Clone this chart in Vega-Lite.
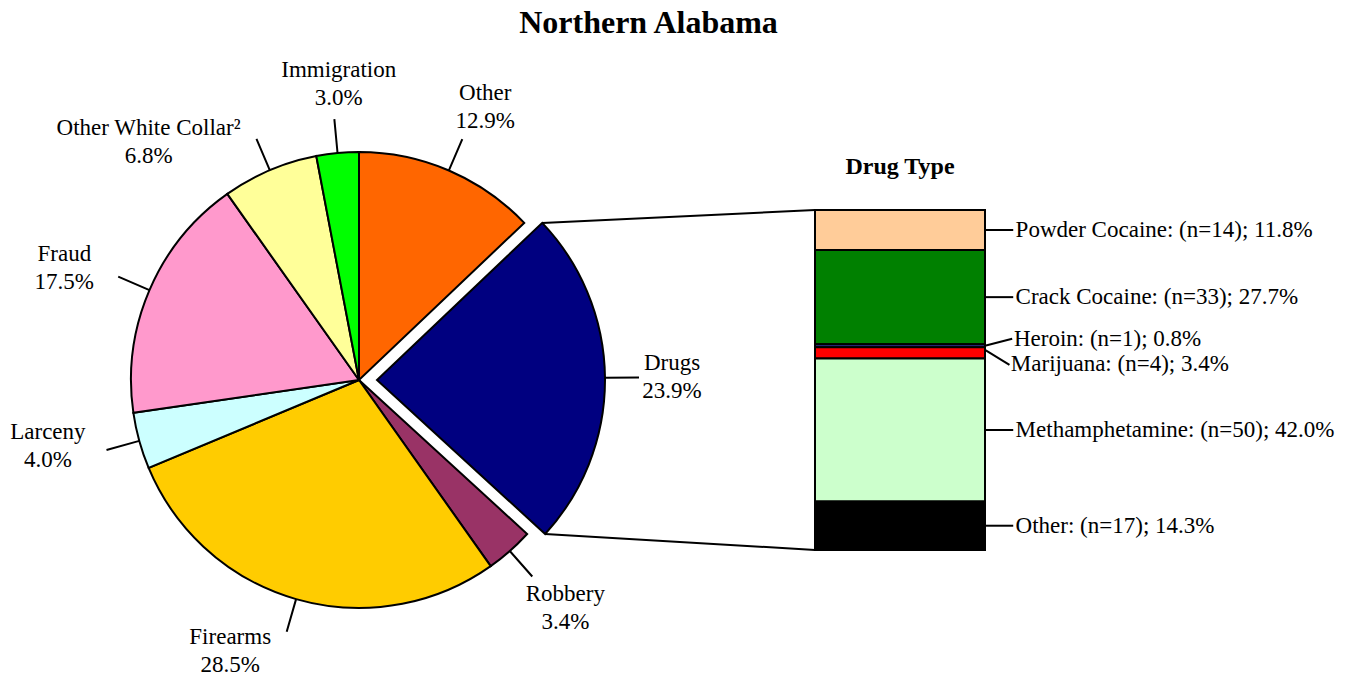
{
  "$schema": "https://vega.github.io/schema/vega-lite/v6.json",
  "width": 1361,
  "height": 629,
  "autosize": {"type": "none"},
  "padding": {"top": 50, "left": 0, "right": 0, "bottom": 0},
  "background": "white",
  "title": {"text": "Northern Alabama", "font": "Liberation Serif", "fontSize": 32, "fontWeight": "bold", "color": "black", "anchor": "middle", "dx": -32, "offset": 10},
  "datasets": {
    "offenses": [
      {"offense": "Other", "share": 0.129},
      {"offense": "Drugs", "share": 0.239},
      {"offense": "Robbery", "share": 0.034},
      {"offense": "Firearms", "share": 0.285},
      {"offense": "Larceny", "share": 0.04},
      {"offense": "Fraud", "share": 0.175},
      {"offense": "Other White Collar²", "share": 0.068},
      {"offense": "Immigration", "share": 0.03}
    ],
    "drugs": [
      {"drug": "Powder Cocaine", "n": 14, "label": "Powder Cocaine: (n=14); 11.8%"},
      {"drug": "Crack Cocaine", "n": 33, "label": "Crack Cocaine: (n=33); 27.7%"},
      {"drug": "Heroin", "n": 1, "label": "Heroin: (n=1); 0.8%"},
      {"drug": "Marijuana", "n": 4, "label": "Marijuana: (n=4); 3.4%"},
      {"drug": "Methamphetamine", "n": 50, "label": "Methamphetamine: (n=50); 42.0%"},
      {"drug": "Other", "n": 17, "label": "Other: (n=17); 14.3%"}
    ]
  },
  "layer": [
    {
      "data": {"name": "offenses"},
      "transform": [
        {"stack": "share", "groupby": [], "as": ["a0", "a1"]},
        {"fold": ["a0", "a1"], "as": ["edge", "ang"]},
        {"aggregate": [{"op": "mean", "field": "ang", "as": "amid"}], "groupby": ["offense", "share", "a0", "a1"]}
      ],
      "layer": [
        {
          "transform": [{"filter": "datum.offense !== 'Drugs'"}],
          "mark": {"type": "arc", "outerRadius": 228, "stroke": "black", "strokeWidth": 2},
          "encoding": {
            "x": {"datum": -1.34118, "type": "quantitative", "stack": null, "scale": {"domain": [-2.39706, 1.60588], "nice": false, "zero": false}, "axis": null},
            "y": {"datum": 0.5, "type": "quantitative", "scale": {"domain": [-0.47059, 1.37941], "reverse": true, "nice": false, "zero": false}, "axis": null},
            "theta": {"field": "a0", "type": "quantitative", "scale": {"domain": [0, 1], "range": [0, 6.283185307179586]}},
            "theta2": {"field": "a1"},
            "color": {"field": "offense", "type": "nominal", "legend": null, "scale": {"domain": ["Other", "Drugs", "Robbery", "Firearms", "Larceny", "Fraud", "Other White Collar²", "Immigration"], "range": ["#FF6600", "#000080", "#993366", "#FFCC00", "#CCFFFF", "#FF99CC", "#FFFF99", "#00FF00"]}}
          }
        },
        {
          "transform": [{"filter": "datum.offense === 'Drugs'"}],
          "mark": {"type": "arc", "outerRadius": 228, "stroke": "black", "strokeWidth": 2},
          "encoding": {
            "x": {"datum": -1.28824, "type": "quantitative", "stack": null, "scale": {"domain": [-2.39706, 1.60588], "nice": false, "zero": false}, "axis": null},
            "y": {"datum": 0.5, "type": "quantitative", "scale": {"domain": [-0.47059, 1.37941], "reverse": true, "nice": false, "zero": false}, "axis": null},
            "theta": {"field": "a0", "type": "quantitative", "scale": {"domain": [0, 1], "range": [0, 6.283185307179586]}},
            "theta2": {"field": "a1"},
            "color": {"field": "offense", "type": "nominal", "legend": null, "scale": {"domain": ["Other", "Drugs", "Robbery", "Firearms", "Larceny", "Fraud", "Other White Collar²", "Immigration"], "range": ["#FF6600", "#000080", "#993366", "#FFCC00", "#CCFFFF", "#FF99CC", "#FFFF99", "#00FF00"]}}
          }
        },
        {
          "transform": [{"filter": "datum.offense !== 'Drugs'"}],
          "mark": {"type": "arc", "innerRadius": 228, "outerRadius": 262, "padAngle": 3, "fill": "transparent", "stroke": "black", "strokeWidth": 2},
          "encoding": {
            "x": {"datum": -1.34118, "type": "quantitative", "stack": null, "scale": {"domain": [-2.39706, 1.60588], "nice": false, "zero": false}, "axis": null},
            "y": {"datum": 0.5, "type": "quantitative", "scale": {"domain": [-0.47059, 1.37941], "reverse": true, "nice": false, "zero": false}, "axis": null},
            "theta": {"field": "a0", "type": "quantitative", "scale": {"domain": [0, 1], "range": [0, 6.283185307179586]}},
            "theta2": {"field": "a1"}
          }
        },
        {
          "transform": [{"filter": "datum.offense === 'Drugs'"}],
          "mark": {"type": "arc", "innerRadius": 228, "outerRadius": 262, "padAngle": 3, "fill": "transparent", "stroke": "black", "strokeWidth": 2},
          "encoding": {
            "x": {"datum": -1.28824, "type": "quantitative", "stack": null, "scale": {"domain": [-2.39706, 1.60588], "nice": false, "zero": false}, "axis": null},
            "y": {"datum": 0.5, "type": "quantitative", "scale": {"domain": [-0.47059, 1.37941], "reverse": true, "nice": false, "zero": false}, "axis": null},
            "theta": {"field": "a0", "type": "quantitative", "scale": {"domain": [0, 1], "range": [0, 6.283185307179586]}},
            "theta2": {"field": "a1"}
          }
        },
        {
          "transform": [{"filter": "indexof(['Other', 'Immigration', 'Robbery'], datum.offense) >= 0"}],
          "mark": {"type": "text", "radius": 300, "dx": 8, "dy": -11, "align": "center", "baseline": "middle", "font": "Liberation Serif", "fontSize": 23, "color": "black"},
          "encoding": {
            "x": {"datum": -1.34118, "type": "quantitative", "stack": null, "scale": {"domain": [-2.39706, 1.60588], "nice": false, "zero": false}, "axis": null},
            "y": {"datum": 0.5, "type": "quantitative", "scale": {"domain": [-0.47059, 1.37941], "reverse": true, "nice": false, "zero": false}, "axis": null},
            "theta": {"field": "amid", "type": "quantitative", "scale": {"domain": [0, 1], "range": [0, 6.283185307179586]}},
            "text": {"field": "offense", "type": "nominal"}
          }
        },
        {
          "transform": [{"filter": "indexof(['Other', 'Immigration', 'Robbery'], datum.offense) >= 0"}],
          "mark": {"type": "text", "radius": 300, "dx": 8, "dy": 17, "align": "center", "baseline": "middle", "font": "Liberation Serif", "fontSize": 23, "color": "black"},
          "encoding": {
            "x": {"datum": -1.34118, "type": "quantitative", "stack": null, "scale": {"domain": [-2.39706, 1.60588], "nice": false, "zero": false}, "axis": null},
            "y": {"datum": 0.5, "type": "quantitative", "scale": {"domain": [-0.47059, 1.37941], "reverse": true, "nice": false, "zero": false}, "axis": null},
            "theta": {"field": "amid", "type": "quantitative", "scale": {"domain": [0, 1], "range": [0, 6.283185307179586]}},
            "text": {"field": "share", "type": "quantitative", "format": ".1%"}
          }
        },
        {
          "transform": [{"filter": "datum.offense === 'Fraud'"}],
          "mark": {"type": "text", "radius": 300, "dx": -19, "dy": -8, "align": "center", "baseline": "middle", "font": "Liberation Serif", "fontSize": 23, "color": "black"},
          "encoding": {
            "x": {"datum": -1.34118, "type": "quantitative", "stack": null, "scale": {"domain": [-2.39706, 1.60588], "nice": false, "zero": false}, "axis": null},
            "y": {"datum": 0.5, "type": "quantitative", "scale": {"domain": [-0.47059, 1.37941], "reverse": true, "nice": false, "zero": false}, "axis": null},
            "theta": {"field": "amid", "type": "quantitative", "scale": {"domain": [0, 1], "range": [0, 6.283185307179586]}},
            "text": {"field": "offense", "type": "nominal"}
          }
        },
        {
          "transform": [{"filter": "datum.offense === 'Fraud'"}],
          "mark": {"type": "text", "radius": 300, "dx": -19, "dy": 20, "align": "center", "baseline": "middle", "font": "Liberation Serif", "fontSize": 23, "color": "black"},
          "encoding": {
            "x": {"datum": -1.34118, "type": "quantitative", "stack": null, "scale": {"domain": [-2.39706, 1.60588], "nice": false, "zero": false}, "axis": null},
            "y": {"datum": 0.5, "type": "quantitative", "scale": {"domain": [-0.47059, 1.37941], "reverse": true, "nice": false, "zero": false}, "axis": null},
            "theta": {"field": "amid", "type": "quantitative", "scale": {"domain": [0, 1], "range": [0, 6.283185307179586]}},
            "text": {"field": "share", "type": "quantitative", "format": ".1%"}
          }
        },
        {
          "transform": [{"filter": "datum.offense === 'Larceny'"}],
          "mark": {"type": "text", "radius": 300, "dx": -22, "dy": -28, "align": "center", "baseline": "middle", "font": "Liberation Serif", "fontSize": 23, "color": "black"},
          "encoding": {
            "x": {"datum": -1.34118, "type": "quantitative", "stack": null, "scale": {"domain": [-2.39706, 1.60588], "nice": false, "zero": false}, "axis": null},
            "y": {"datum": 0.5, "type": "quantitative", "scale": {"domain": [-0.47059, 1.37941], "reverse": true, "nice": false, "zero": false}, "axis": null},
            "theta": {"field": "amid", "type": "quantitative", "scale": {"domain": [0, 1], "range": [0, 6.283185307179586]}},
            "text": {"field": "offense", "type": "nominal"}
          }
        },
        {
          "transform": [{"filter": "datum.offense === 'Larceny'"}],
          "mark": {"type": "text", "radius": 300, "dx": -22, "dy": 0, "align": "center", "baseline": "middle", "font": "Liberation Serif", "fontSize": 23, "color": "black"},
          "encoding": {
            "x": {"datum": -1.34118, "type": "quantitative", "stack": null, "scale": {"domain": [-2.39706, 1.60588], "nice": false, "zero": false}, "axis": null},
            "y": {"datum": 0.5, "type": "quantitative", "scale": {"domain": [-0.47059, 1.37941], "reverse": true, "nice": false, "zero": false}, "axis": null},
            "theta": {"field": "amid", "type": "quantitative", "scale": {"domain": [0, 1], "range": [0, 6.283185307179586]}},
            "text": {"field": "share", "type": "quantitative", "format": ".1%"}
          }
        },
        {
          "transform": [{"filter": "datum.offense === 'Other White Collar²'"}],
          "mark": {"type": "text", "radius": 300, "dx": -93, "dy": 24, "align": "center", "baseline": "middle", "font": "Liberation Serif", "fontSize": 23, "color": "black"},
          "encoding": {
            "x": {"datum": -1.34118, "type": "quantitative", "stack": null, "scale": {"domain": [-2.39706, 1.60588], "nice": false, "zero": false}, "axis": null},
            "y": {"datum": 0.5, "type": "quantitative", "scale": {"domain": [-0.47059, 1.37941], "reverse": true, "nice": false, "zero": false}, "axis": null},
            "theta": {"field": "amid", "type": "quantitative", "scale": {"domain": [0, 1], "range": [0, 6.283185307179586]}},
            "text": {"field": "offense", "type": "nominal"}
          }
        },
        {
          "transform": [{"filter": "datum.offense === 'Other White Collar²'"}],
          "mark": {"type": "text", "radius": 300, "dx": -93, "dy": 52, "align": "center", "baseline": "middle", "font": "Liberation Serif", "fontSize": 23, "color": "black"},
          "encoding": {
            "x": {"datum": -1.34118, "type": "quantitative", "stack": null, "scale": {"domain": [-2.39706, 1.60588], "nice": false, "zero": false}, "axis": null},
            "y": {"datum": 0.5, "type": "quantitative", "scale": {"domain": [-0.47059, 1.37941], "reverse": true, "nice": false, "zero": false}, "axis": null},
            "theta": {"field": "amid", "type": "quantitative", "scale": {"domain": [0, 1], "range": [0, 6.283185307179586]}},
            "text": {"field": "share", "type": "quantitative", "format": ".1%"}
          }
        },
        {
          "transform": [{"filter": "datum.offense === 'Firearms'"}],
          "mark": {"type": "text", "radius": 300, "dx": -46, "dy": -31, "align": "center", "baseline": "middle", "font": "Liberation Serif", "fontSize": 23, "color": "black"},
          "encoding": {
            "x": {"datum": -1.34118, "type": "quantitative", "stack": null, "scale": {"domain": [-2.39706, 1.60588], "nice": false, "zero": false}, "axis": null},
            "y": {"datum": 0.5, "type": "quantitative", "scale": {"domain": [-0.47059, 1.37941], "reverse": true, "nice": false, "zero": false}, "axis": null},
            "theta": {"field": "amid", "type": "quantitative", "scale": {"domain": [0, 1], "range": [0, 6.283185307179586]}},
            "text": {"field": "offense", "type": "nominal"}
          }
        },
        {
          "transform": [{"filter": "datum.offense === 'Firearms'"}],
          "mark": {"type": "text", "radius": 300, "dx": -46, "dy": -3, "align": "center", "baseline": "middle", "font": "Liberation Serif", "fontSize": 23, "color": "black"},
          "encoding": {
            "x": {"datum": -1.34118, "type": "quantitative", "stack": null, "scale": {"domain": [-2.39706, 1.60588], "nice": false, "zero": false}, "axis": null},
            "y": {"datum": 0.5, "type": "quantitative", "scale": {"domain": [-0.47059, 1.37941], "reverse": true, "nice": false, "zero": false}, "axis": null},
            "theta": {"field": "amid", "type": "quantitative", "scale": {"domain": [0, 1], "range": [0, 6.283185307179586]}},
            "text": {"field": "share", "type": "quantitative", "format": ".1%"}
          }
        },
        {
          "transform": [{"filter": "datum.offense === 'Drugs'"}],
          "mark": {"type": "text", "radius": 300, "dx": -5, "dy": -14, "align": "center", "baseline": "middle", "font": "Liberation Serif", "fontSize": 23, "color": "black"},
          "encoding": {
            "x": {"datum": -1.28824, "type": "quantitative", "stack": null, "scale": {"domain": [-2.39706, 1.60588], "nice": false, "zero": false}, "axis": null},
            "y": {"datum": 0.5, "type": "quantitative", "scale": {"domain": [-0.47059, 1.37941], "reverse": true, "nice": false, "zero": false}, "axis": null},
            "theta": {"field": "amid", "type": "quantitative", "scale": {"domain": [0, 1], "range": [0, 6.283185307179586]}},
            "text": {"field": "offense", "type": "nominal"}
          }
        },
        {
          "transform": [{"filter": "datum.offense === 'Drugs'"}],
          "mark": {"type": "text", "radius": 300, "dx": -5, "dy": 14, "align": "center", "baseline": "middle", "font": "Liberation Serif", "fontSize": 23, "color": "black"},
          "encoding": {
            "x": {"datum": -1.28824, "type": "quantitative", "stack": null, "scale": {"domain": [-2.39706, 1.60588], "nice": false, "zero": false}, "axis": null},
            "y": {"datum": 0.5, "type": "quantitative", "scale": {"domain": [-0.47059, 1.37941], "reverse": true, "nice": false, "zero": false}, "axis": null},
            "theta": {"field": "amid", "type": "quantitative", "scale": {"domain": [0, 1], "range": [0, 6.283185307179586]}},
            "text": {"field": "share", "type": "quantitative", "format": ".1%"}
          }
        }
      ]
    },
    {
      "data": {"name": "drugs"},
      "transform": [
        {"stack": "n", "groupby": [], "offset": "normalize", "as": ["s0", "s1"]},
        {"fold": ["s0", "s1"], "as": ["edge", "pos"]},
        {"aggregate": [{"op": "mean", "field": "pos", "as": "mid"}], "groupby": ["drug", "label", "s0", "s1"]}
      ],
      "layer": [
        {
          "mark": {"type": "bar", "stroke": "black", "strokeWidth": 2},
          "encoding": {
            "x": {"datum": 0, "type": "quantitative", "stack": null, "scale": {"domain": [-2.39706, 1.60588], "nice": false, "zero": false}, "axis": null},
            "x2": {"datum": 0.5},
            "y": {"field": "s0", "type": "quantitative", "scale": {"domain": [-0.47059, 1.37941], "reverse": true, "nice": false, "zero": false}, "axis": null},
            "y2": {"field": "s1"},
            "color": {"field": "drug", "type": "nominal", "legend": null, "scale": {"domain": ["Powder Cocaine", "Crack Cocaine", "Heroin", "Marijuana", "Methamphetamine", "Other"], "range": ["#FFCC99", "#008000", "#333399", "#FF0000", "#CCFFCC", "#000000"]}}
          }
        },
        {
          "transform": [{"filter": "datum.drug !== 'Heroin' && datum.drug !== 'Marijuana'"}],
          "mark": {"type": "rule", "stroke": "black", "strokeWidth": 2},
          "encoding": {
            "x": {"datum": 0.5, "type": "quantitative", "stack": null, "scale": {"domain": [-2.39706, 1.60588], "nice": false, "zero": false}, "axis": null},
            "x2": {"datum": 0.583},
            "y": {"field": "mid", "type": "quantitative", "scale": {"domain": [-0.47059, 1.37941], "reverse": true, "nice": false, "zero": false}, "axis": null},
            "y2": {"field": "mid"}
          }
        },
        {
          "transform": [{"filter": "datum.drug === 'Heroin'"}],
          "mark": {"type": "rule", "stroke": "black", "strokeWidth": 2, "y2Offset": -7},
          "encoding": {
            "x": {"datum": 0.5, "type": "quantitative", "stack": null, "scale": {"domain": [-2.39706, 1.60588], "nice": false, "zero": false}, "axis": null},
            "x2": {"datum": 0.58},
            "y": {"field": "mid", "type": "quantitative", "scale": {"domain": [-0.47059, 1.37941], "reverse": true, "nice": false, "zero": false}, "axis": null},
            "y2": {"field": "mid"}
          }
        },
        {
          "transform": [{"filter": "datum.drug === 'Marijuana'"}],
          "mark": {"type": "rule", "stroke": "black", "strokeWidth": 2, "yOffset": -3, "y2Offset": 12},
          "encoding": {
            "x": {"datum": 0.5, "type": "quantitative", "stack": null, "scale": {"domain": [-2.39706, 1.60588], "nice": false, "zero": false}, "axis": null},
            "x2": {"datum": 0.572},
            "y": {"field": "mid", "type": "quantitative", "scale": {"domain": [-0.47059, 1.37941], "reverse": true, "nice": false, "zero": false}, "axis": null},
            "y2": {"field": "mid"}
          }
        },
        {
          "transform": [{"filter": "datum.drug !== 'Heroin' && datum.drug !== 'Marijuana'"}],
          "mark": {"type": "text", "align": "left", "baseline": "middle", "font": "Liberation Serif", "fontSize": 23, "color": "black"},
          "encoding": {
            "x": {"datum": 0.59, "type": "quantitative", "stack": null, "scale": {"domain": [-2.39706, 1.60588], "nice": false, "zero": false}, "axis": null},
            "y": {"field": "mid", "type": "quantitative", "scale": {"domain": [-0.47059, 1.37941], "reverse": true, "nice": false, "zero": false}, "axis": null},
            "text": {"field": "label", "type": "nominal"}
          }
        },
        {
          "transform": [{"filter": "datum.drug === 'Heroin'"}],
          "mark": {"type": "text", "align": "left", "baseline": "middle", "dy": -7, "font": "Liberation Serif", "fontSize": 23, "color": "black"},
          "encoding": {
            "x": {"datum": 0.585, "type": "quantitative", "stack": null, "scale": {"domain": [-2.39706, 1.60588], "nice": false, "zero": false}, "axis": null},
            "y": {"field": "mid", "type": "quantitative", "scale": {"domain": [-0.47059, 1.37941], "reverse": true, "nice": false, "zero": false}, "axis": null},
            "text": {"field": "label", "type": "nominal"}
          }
        },
        {
          "transform": [{"filter": "datum.drug === 'Marijuana'"}],
          "mark": {"type": "text", "align": "left", "baseline": "middle", "dy": 11, "font": "Liberation Serif", "fontSize": 23, "color": "black"},
          "encoding": {
            "x": {"datum": 0.576, "type": "quantitative", "stack": null, "scale": {"domain": [-2.39706, 1.60588], "nice": false, "zero": false}, "axis": null},
            "y": {"field": "mid", "type": "quantitative", "scale": {"domain": [-0.47059, 1.37941], "reverse": true, "nice": false, "zero": false}, "axis": null},
            "text": {"field": "label", "type": "nominal"}
          }
        }
      ]
    },
    {
      "data": {"values": [{}]},
      "layer": [
        {
          "mark": {"type": "text", "text": "Drug Type", "align": "center", "baseline": "middle", "dy": -43, "font": "Liberation Serif", "fontSize": 24, "fontWeight": "bold", "color": "black"},
          "encoding": {
            "x": {"datum": 0.25, "type": "quantitative", "stack": null, "scale": {"domain": [-2.39706, 1.60588], "nice": false, "zero": false}, "axis": null},
            "y": {"datum": 0, "type": "quantitative", "scale": {"domain": [-0.47059, 1.37941], "reverse": true, "nice": false, "zero": false}, "axis": null}
          }
        },
        {
          "mark": {"type": "rule", "stroke": "black", "strokeWidth": 2},
          "encoding": {
            "x": {"datum": -0.80235, "type": "quantitative", "stack": null, "scale": {"domain": [-2.39706, 1.60588], "nice": false, "zero": false}, "axis": null},
            "y": {"datum": 0.03794, "type": "quantitative", "scale": {"domain": [-0.47059, 1.37941], "reverse": true, "nice": false, "zero": false}, "axis": null},
            "x2": {"datum": 0},
            "y2": {"datum": 0}
          }
        },
        {
          "mark": {"type": "rule", "stroke": "black", "strokeWidth": 2},
          "encoding": {
            "x": {"datum": -0.79382, "type": "quantitative", "stack": null, "scale": {"domain": [-2.39706, 1.60588], "nice": false, "zero": false}, "axis": null},
            "y": {"datum": 0.95294, "type": "quantitative", "scale": {"domain": [-0.47059, 1.37941], "reverse": true, "nice": false, "zero": false}, "axis": null},
            "x2": {"datum": 0},
            "y2": {"datum": 1}
          }
        }
      ]
    }
  ],
  "resolve": {"scale": {"color": "independent"}},
  "config": {"view": {"stroke": null}}
}
